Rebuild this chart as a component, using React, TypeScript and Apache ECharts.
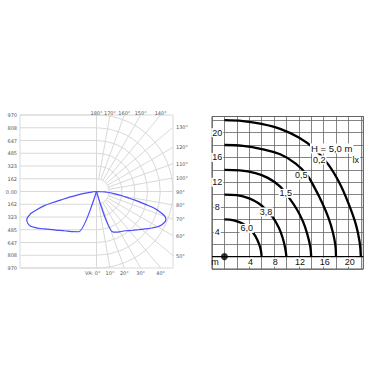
import React, { useEffect, useRef } from 'react';
import * as echarts from 'echarts';

// ---------- Left panel: luminous intensity distribution ----------
const intensityTickLabels = ['970', '808', '647', '485', '323', '162', '0.00', '162', '323', '485', '647', '808', '970'];
const intensityMax = 970;
const ringSteps = [1, 2, 3, 4, 5, 6];
const verticalAngles = [0, 10, 20, 30, 40, 50, 60, 70, 80, 90, 100, 110, 120, 130, 140, 150, 160, 170, 180];

// [intensity (cd), vertical angle (deg)] — right plane
const planeRight = [
  [0, 0], [0, 20], [556, 22.4], [590, 30], [615, 36], [665, 42], [719, 47.6], [780, 52.5], [841, 56.6],
  [893, 60], [930, 63.1], [947, 65.5], [950, 67.9], [930, 69.6], [899, 70.9], [840, 72.3], [775, 73.7],
  [680, 74.8], [592, 75.9], [500, 77.3], [411, 78.7], [320, 80.8], [235, 82.8], [160, 85.5], [106, 88], [0, 90],
];
// left plane
const planeLeft = [
  [0, 0], [0, 21], [558, 23.9], [600, 32], [641, 39.1], [710, 46.5], [780, 52.4], [850, 56.5], [909, 60],
  [945, 62.5], [961, 65.2], [958, 67.2], [943, 68.9], [910, 70.3], [874, 71.6], [780, 73.3], [684, 74.8],
  [570, 75.8], [459, 76.7], [350, 78.2], [239, 79.8], [140, 81.5], [64, 83], [0, 90],
];

// ---------- Right panel: isolux diagram ----------
const distanceTicks = [4, 8, 12, 16, 20];
const isoluxValues = ['6,0', '3,8', '1,5', '0,5', '0,2'];
const isolux60 = [[0, 6], [1.5, 5.85], [3, 5.3], [4.2, 4.4], [5, 3.3], [5.6, 2.0], [5.9, 0.9], [6, 0]];
const isolux38 = [[0, 10], [2, 9.9], [4, 9.4], [5.5, 8.6], [6.8, 7.5], [7.9, 6.2], [8.8, 4.6], [9.4, 3.0], [9.8, 1.4], [10, 0]];
const isolux15 = [[0, 14], [2.5, 13.9], [5, 13.45], [7, 12.7], [9, 11.3], [10.5, 9.4], [11.7, 7.6], [12.7, 5.6], [13.4, 3.5], [13.85, 1.6], [14, 0]];
const isolux05 = [[0, 18], [3, 17.85], [6, 17.35], [9, 16.5], [11.5, 15.0], [13.3, 13.2], [14.6, 11.0], [15.8, 8.6], [16.8, 6.2], [17.5, 3.9], [17.9, 1.8], [18, 0]];
const isolux02 = [[0, 22], [3, 21.85], [6, 21.4], [9, 20.6], [12, 19.2], [14.5, 17.4], [16.8, 14.8], [18.6, 11.8], [20, 8.6], [21.2, 5.2], [21.8, 2.4], [22, 0]];
const isoluxCurves = [isolux60, isolux38, isolux15, isolux05, isolux02];
const isoluxLabelAt = [[3.6, 4.55], [6.7, 7.2], [9.9, 10.2], [12.4, 13.1], [15.3, 15.6]];
const heightText = 'H = 5,0 m';
const heightTextAt = [17.3, 17.45];
const unitText = 'lx';
const unitTextAt = [21.2, 15.6];
const axisUnitText = 'm';
const axisUnitAt = [-1.5, -0.95];
const xTickRow = -0.9;
const yTickColumn = -1.15;

const GRID_GRAY = '#d9d9d9';
const LABEL_GRAY = '#555';
const SMALL_FONT = '5px "DejaVu Sans", sans-serif';
const SANS = '"Liberation Sans", Arial, sans-serif';

export default function App() {
  const ref = useRef<HTMLDivElement>(null);
  useEffect(() => {
    document.body.style.margin = '0';
    const chart = echarts.init(ref.current!, null, { renderer: 'svg' });
    const polarCenter = [96.5, 191.5];
    const polarRadius = 76.5;

    const polarGrid = {
      type: 'custom',
      xAxisIndex: 0,
      yAxisIndex: 0,
      silent: true,
      z: 1,
      clip: false,
      data: [[0, 0]],
      renderItem: (params: any, api: any) => {
        const c = api.coord([0, 0]);
        const tr = api.coord([6, 6]);
        const bl = api.coord([-6, -6]);
        const step = (tr[0] - c[0]) / 6;
        const R = tr[0] - c[0];
        const ls = { stroke: GRID_GRAY, lineWidth: 1, fill: 'none' };
        const children: any[] = [];
        for (let k = -6; k <= 6; k++) {
          const a = api.coord([-6, k]);
          const b = api.coord([0, k]);
          children.push({ type: 'line', shape: { x1: a[0], y1: a[1], x2: b[0], y2: b[1] }, style: ls });
        }
        children.push({ type: 'rect', shape: { x: bl[0], y: tr[1], width: tr[0] - bl[0], height: bl[1] - tr[1] }, style: ls });
        children.push({ type: 'line', shape: { x1: c[0], y1: tr[1], x2: c[0], y2: bl[1] }, style: ls });
        ringSteps.forEach((s) => {
          children.push({
            type: 'arc',
            shape: { cx: c[0], cy: c[1], r: s * step, startAngle: -Math.PI / 2, endAngle: Math.PI / 2, clockwise: true },
            style: ls,
          });
        });
        verticalAngles.forEach((deg) => {
          const t = (deg * Math.PI) / 180;
          const dx = Math.sin(t);
          const dy = Math.cos(t);
          const kx = Math.abs(dx) > 1e-9 ? R / Math.abs(dx) : Infinity;
          const ky = Math.abs(dy) > 1e-9 ? R / Math.abs(dy) : Infinity;
          const k = Math.min(kx, ky);
          const ex = c[0] + dx * k;
          const ey = c[1] + dy * k;
          if (deg !== 0 && deg !== 180) {
            children.push({
              type: 'line',
              shape: { x1: c[0] + dx * step, y1: c[1] + dy * step, x2: ex, y2: ey },
              style: ls,
            });
          }
          let tx = ex, ty = ey, align = 'center', valign = 'middle', text = deg + '°';
          if (ky <= kx) {
            if (dy > 0) { ty = ey + 2.5; valign = 'top'; }
            else { ty = ey + 0.5; valign = 'bottom'; }
            if (deg === 0) { text = 'VA: 0°'; align = 'right'; tx = ex + 4; }
          } else {
            tx = ex + 3; align = 'left';
          }
          children.push({
            type: 'text',
            x: tx,
            y: ty,
            style: { text, font: SMALL_FONT, fill: LABEL_GRAY, align, verticalAlign: valign },
          });
        });
        return { type: 'group', children };
      },
    };

    const planeSeries = [planeRight, planeLeft].map((d, i) => ({
      type: 'line',
      coordinateSystem: 'polar',
      polarIndex: i,
      data: d,
      showSymbol: false,
      smooth: 0.25,
      lineStyle: { color: '#4a4aff', width: 1.2 },
      z: 5,
    }));

    const isoluxSeries = isoluxCurves.map((d) => ({
      type: 'line',
      xAxisIndex: 1,
      yAxisIndex: 1,
      data: d,
      showSymbol: false,
      smooth: 0.4,
      lineStyle: { color: '#000', width: 2.3 },
      z: 3,
    }));

    // annotation texts rendered at data coordinates with white backing boxes
    const textSeries = (items: { at: number[]; text: string }[], fontSize: number, withBg: boolean) => ({
      type: 'custom', xAxisIndex: 1, yAxisIndex: 1, z: 8, silent: true, clip: false,
      data: items.map((it) => [it.at[0], it.at[1]]),
      renderItem: (params: any, api: any) => {
        const p = api.coord([api.value(0), api.value(1)]);
        const it = items[params.dataIndex];
        return {
          type: 'text',
          x: p[0],
          y: p[1],
          style: {
            text: it.text,
            font: `${fontSize}px ${SANS}`,
            fill: '#111',
            align: 'center',
            verticalAlign: 'middle',
            backgroundColor: withBg ? '#fff' : undefined,
            padding: withBg ? [0, 1, 0, 1] : 0,
          },
        };
      },
    });

    const option: any = {
      animation: false,
      backgroundColor: '#fff',
      grid: [
        { left: 20, top: 115, width: 153, height: 153, show: false },
        { left: 212, top: 116.5, width: 151.3, height: 152.5, show: true, borderColor: '#555', borderWidth: 1, backgroundColor: '#fff' },
      ],
      xAxis: [
        { gridIndex: 0, type: 'value', min: -6, max: 6, show: false },
        {
          gridIndex: 1, type: 'value', min: -2, max: 22.4, interval: 2,
          axisLine: { show: false }, axisTick: { show: false }, axisLabel: { show: false },
          splitLine: { show: true, lineStyle: { color: '#666', width: 0.8 } },
        },
      ],
      yAxis: [
        {
          gridIndex: 0, type: 'value', min: -6, max: 6, interval: 1,
          axisLine: { show: false }, axisTick: { show: false }, splitLine: { show: false },
          axisLabel: {
            formatter: (v: number) => intensityTickLabels[6 - Math.round(v)],
            color: LABEL_GRAY, fontSize: 5, fontFamily: '"DejaVu Sans", sans-serif', margin: 3,
          },
        },
        {
          gridIndex: 1, type: 'value', min: -2, max: 22.6, interval: 2,
          axisLine: { show: false }, axisTick: { show: false }, axisLabel: { show: false },
          splitLine: { show: true, lineStyle: { color: '#666', width: 0.8 } },
        },
      ],
      polar: [
        { center: polarCenter, radius: polarRadius },
        { center: polarCenter, radius: polarRadius },
      ],
      angleAxis: [
        { polarIndex: 0, type: 'value', min: 0, max: 360, startAngle: 270, clockwise: false, show: false },
        { polarIndex: 1, type: 'value', min: 0, max: 360, startAngle: 270, clockwise: true, show: false },
      ],
      radiusAxis: [
        { polarIndex: 0, type: 'value', min: 0, max: intensityMax, show: false },
        { polarIndex: 1, type: 'value', min: 0, max: intensityMax, show: false },
      ],
      series: [
        polarGrid,
        ...planeSeries,
        ...isoluxSeries,
        {
          type: 'line', xAxisIndex: 1, yAxisIndex: 1, data: [[-2, 0], [22.4, 0]], showSymbol: false,
          lineStyle: { color: '#000', width: 1.2 }, z: 2, silent: true,
        },
        textSeries(distanceTicks.map((v) => ({ at: [v + 0.2, xTickRow], text: String(v) })), 9, true),
        textSeries(distanceTicks.map((v) => ({ at: [yTickColumn, v], text: String(v) })), 9, true),
        textSeries(isoluxValues.map((v, i) => ({ at: isoluxLabelAt[i], text: v })), 9, true),
        textSeries([{ at: unitTextAt, text: unitText }], 9, true),
        textSeries([{ at: heightTextAt, text: heightText }], 9.5, true),
        textSeries([{ at: axisUnitAt, text: axisUnitText }], 9, false),
        {
          type: 'scatter', xAxisIndex: 1, yAxisIndex: 1, symbolSize: 7, silent: true,
          itemStyle: { color: '#000' }, z: 9,
          data: [[0, 0]],
        },
      ],
    };
    chart.setOption(option);
    return () => chart.dispose();
  }, []);
  return <div ref={ref} style={{ width: 375, height: 375 }} />;
}
